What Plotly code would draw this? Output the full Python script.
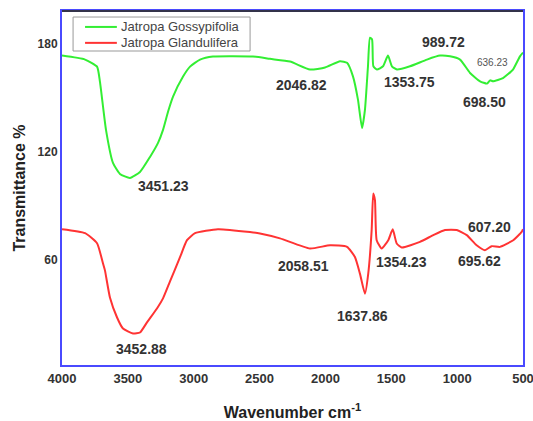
import plotly.graph_objects as go

# Jatropa Gossypifolia (green)
gos_wn = [4000, 3825, 3734, 3712, 3666, 3613, 3560, 3484, 3408, 3332, 3271, 3233, 3195, 3157,
          3081, 3028, 2952, 2854, 2550, 2421, 2269, 2117, 2003, 1889, 1836, 1791, 1753, 1722,
          1700, 1677, 1662, 1646, 1636, 1609, 1563, 1525, 1495, 1457, 1358, 1229, 1130, 1054,
          978, 902, 826, 773, 750, 728, 652, 576, 523, 500]
gos_t = [173.3, 171.1, 167.2, 158.9, 132.2, 113.9, 107.8, 105.6, 108.9, 117.2, 125.0, 132.2, 142.2, 150.6,
         161.7, 167.2, 171.1, 172.8, 172.8, 171.5, 170.0, 165.6, 166.7, 170.2, 169.3, 161.8, 148.9, 133.2,
         143.3, 167.4, 183.2, 182.2, 167.4, 165.6, 167.4, 173.3, 167.4, 165.6, 167.4, 171.1, 173.3, 172.9,
         171.1, 163.7, 159.1, 157.8, 159.6, 159.1, 160.9, 165.6, 172.9, 175.0]

# Jatropa Glandulifera (red)
gla_wn = [4000, 3825, 3734, 3689, 3674, 3636, 3582, 3537, 3461, 3408, 3355, 3279, 3233, 3180,
          3104, 3051, 2990, 2816, 2573, 2497, 2345, 2117, 1965, 1836, 1776, 1738, 1700, 1675,
          1649, 1637, 1624, 1611, 1573, 1523, 1489, 1459, 1421, 1282, 1181, 1092, 1003, 927,
          852, 789, 738, 675, 574, 510, 500]
gla_t = [77.2, 75.0, 69.4, 58.3, 54.4, 39.4, 28.3, 22.2, 19.4, 20.0, 25.6, 33.3, 38.9, 48.3,
         61.7, 71.1, 75.0, 77.2, 75.6, 74.8, 72.1, 66.5, 68.3, 67.4, 61.8, 52.6, 41.5, 52.6,
         76.7, 97.0, 93.3, 71.1, 66.5, 71.1, 77.1, 69.3, 67.1, 70.2, 73.9, 76.7, 76.7, 73.9,
         68.3, 65.6, 67.8, 67.4, 71.1, 75.7, 77.2]

series_names = ["Jatropa Gossypifolia", "Jatropa Glandulifera"]
series_colors = ["#33ee33", "#ff3333"]

# Peak labels: text, x, y
label_text = ["3451.23", "2046.82", "1353.75", "989.72", "698.50",
              "3452.88", "2058.51", "1354.23", "1637.86", "607.20", "695.62"]
label_x = [3233, 2178, 1358, 1107, 796, 3393, 2170, 1419, 1722, 751, 827]
label_y = [101.1, 157.2, 158.9, 180.6, 147.8, 11.1, 56.7, 58.9, 29.4, 78.3, 59.4]
small_label = ("636.23", 735, 169.4)

x_ticks = [4000, 3500, 3000, 2500, 2000, 1500, 1000, 500]
y_ticks = [60, 120, 180]

FONT = "Liberation Sans, Arial, sans-serif"
BLUE = "#4a4aff"

fig = go.Figure()
for wn, t, name, col in [(gos_wn, gos_t, series_names[0], series_colors[0]),
                         (gla_wn, gla_t, series_names[1], series_colors[1])]:
    fig.add_trace(go.Scatter(x=wn, y=t, mode="lines", name=name, showlegend=False,
                             line=dict(color=col, width=2, shape="spline", smoothing=0.5)))

for t, x, y in zip(label_text, label_x, label_y):
    fig.add_annotation(x=x, y=y, text=t, showarrow=False,
                       font=dict(family=FONT, size=14, color="#333333", weight="bold"))
fig.add_annotation(x=small_label[1], y=small_label[2], text=small_label[0], showarrow=False,
                   font=dict(family=FONT, size=10, color="#555555"))

# top frame line (dark)
fig.add_shape(type="line", xref="paper", yref="paper", x0=0, x1=1, y0=1, y1=1,
              line=dict(color="#33334a", width=2))

# legend box (drawn manually to match compact spacing)
fig.add_shape(type="rect", xref="paper", yref="paper", x0=0.024, x1=0.408, y0=0.887, y1=0.983,
              line=dict(color="#999999", width=1), fillcolor="white", layer="above")
for i, (name, col) in enumerate(zip(series_names, series_colors)):
    yp = 0.955 - i * 0.045
    fig.add_shape(type="line", xref="paper", yref="paper", x0=0.05, x1=0.119, y0=yp, y1=yp,
                  line=dict(color=col, width=2), layer="above")
    fig.add_annotation(xref="paper", yref="paper", x=0.124, y=yp, text=name, showarrow=False,
                       xanchor="left", yanchor="middle",
                       font=dict(family=FONT, size=13, color="#444444"))

fig.update_layout(
    width=533, height=421,
    margin=dict(l=62, r=10, t=11, b=56),
    paper_bgcolor="white", plot_bgcolor="white",
    showlegend=False,
    xaxis=dict(range=[4000, 500], tickvals=x_ticks, ticktext=[str(v) for v in x_ticks],
               showgrid=False, zeroline=False, showline=True, mirror=True,
               linecolor=BLUE, linewidth=2, ticks="", automargin=False,
               ticklabeloverflow="allow",
               tickfont=dict(family=FONT, size=13, color="#333333", weight="bold"),
               title=dict(text="Wavenumber cm<sup>-1</sup>", standoff=22,
                          font=dict(family=FONT, size=16, color="#222222", weight="bold"))),
    yaxis=dict(range=[2, 198], tickvals=y_ticks, ticktext=[str(v) for v in y_ticks],
               showgrid=False, zeroline=False, showline=True, mirror=True,
               linecolor=BLUE, linewidth=2, ticks="", automargin=False,
               tickfont=dict(family=FONT, size=12, color="#333333", weight="bold"),
               title=dict(text="Transmittance %", standoff=8,
                          font=dict(family=FONT, size=16, color="#222222", weight="bold"))),
)

fig.write_html("out.html", config={"displayModeBar": False},
               post_script="document.body.style.margin='0';document.body.style.overflow='hidden';")
